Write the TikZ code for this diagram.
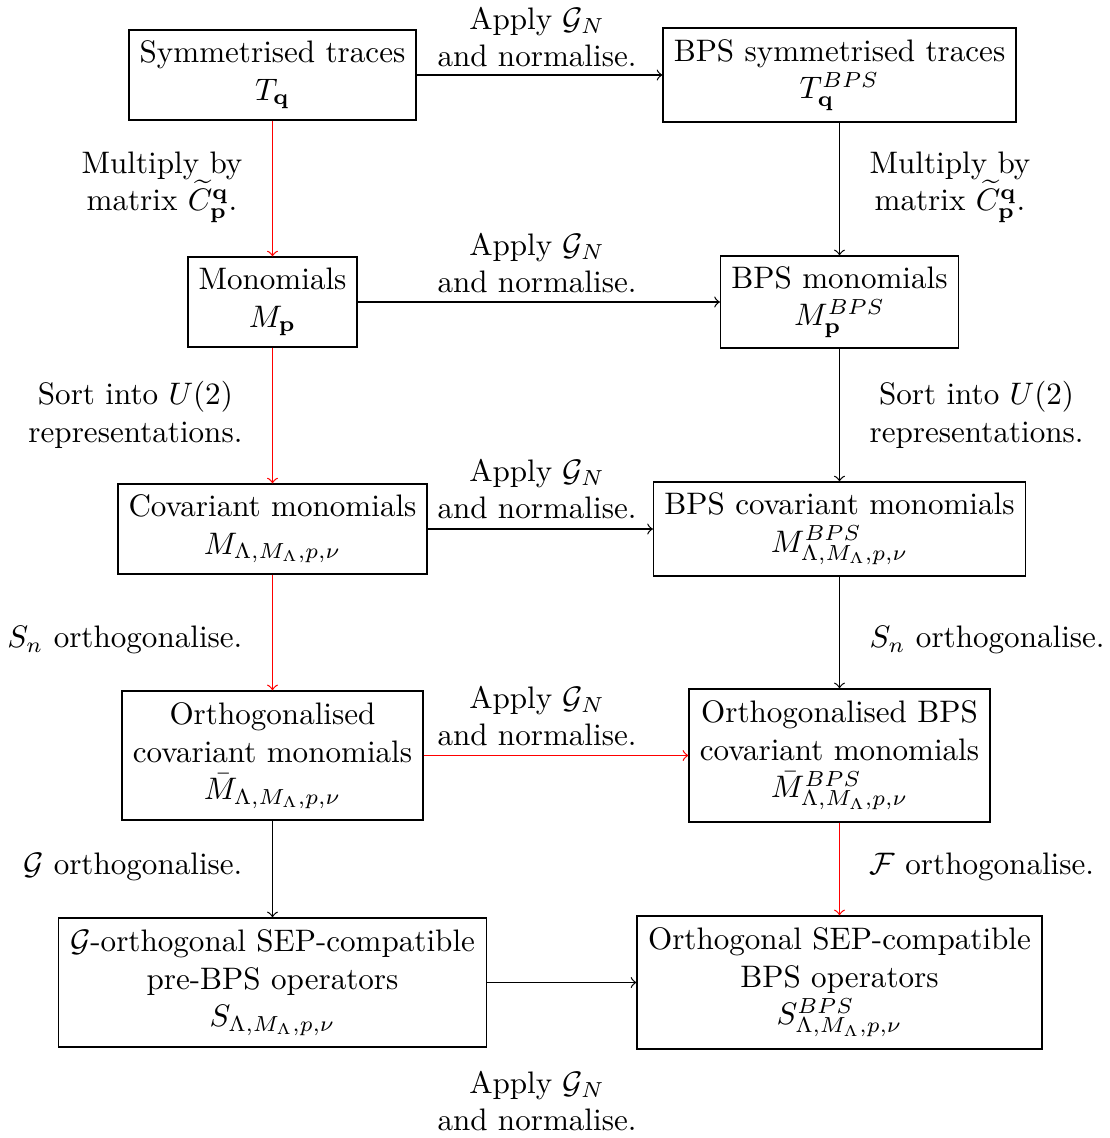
\documentclass[tikz,border=0pt]{standalone}
\usepackage{amsmath,amssymb}
\begin{document}
\begin{tikzpicture}[x=0.32154pt,y=-0.32154pt,
  box/.style={draw=black,thin,align=center,inner sep=2pt},
  lab/.style={align=center,inner sep=0pt},
  arr/.style={->,thin,black},
  rarr/.style={->,thin,red}]
\useasboundingbox (0,0) rectangle (1110,1138);
% boxes
\node[box,minimum width=92.3pt,minimum height=28.9pt] (T) at (272.5,75) {Symmetrised traces\\$T_{\mathbf{q}}$};
\node[box,minimum width=113.5pt,minimum height=30.2pt] (TB) at (839.5,75) {BPS symmetrised traces\\$T^{BPS}_{\mathbf{q}}$};
\node[box,minimum width=54.3pt,minimum height=28.9pt] (M) at (272.5,302) {Monomials\\$M_{\mathbf{p}}$};
\node[box,minimum width=76.5pt,minimum height=29.6pt] (MB) at (839.5,302) {BPS monomials\\$M^{BPS}_{\mathbf{p}}$};
\node[box,minimum width=99.4pt,minimum height=28.9pt] (C) at (272.5,529) {Covariant monomials\\$M_{\Lambda,M_\Lambda,p,\nu}$};
\node[box,minimum width=119.6pt,minimum height=30.2pt] (CB) at (839.5,529) {BPS covariant monomials\\$M^{BPS}_{\Lambda,M_\Lambda,p,\nu}$};
\node[box,minimum width=96.8pt,minimum height=41.5pt] (O) at (272.5,755.5) {Orthogonalised\\covariant monomials\\$\bar{M}_{\Lambda,M_\Lambda,p,\nu}$};
\node[box,minimum width=96.8pt,minimum height=42.8pt] (OB) at (839.5,755.5) {Orthogonalised BPS\\covariant monomials\\$\bar{M}^{BPS}_{\Lambda,M_\Lambda,p,\nu}$};
\node[box,minimum width=137.6pt,minimum height=41.5pt] (S) at (272.5,982.5) {$\mathcal{G}$-orthogonal SEP-compatible\\pre-BPS operators\\$S_{\Lambda,M_\Lambda,p,\nu}$};
\node[box,minimum width=130.2pt,minimum height=42.8pt] (SB) at (839.5,982.5) {Orthogonal SEP-compatible\\BPS operators\\$S^{BPS}_{\Lambda,M_\Lambda,p,\nu}$};
% connectors
\draw[arr] (T) -- (TB);
\draw[arr] (M) -- (MB);
\draw[arr] (C) -- (CB);
\draw[rarr] (O) -- (OB);
\draw[arr] (S) -- (SB);
\draw[rarr] (T.south) -- (M.north);
\draw[rarr] (M.south) -- (C.north);
\draw[rarr] (C.south) -- (O.north);
\draw[arr] (O.south) -- (S.north);
\draw[arr] (TB.south) -- (MB.north);
\draw[arr] (MB.south) -- (CB.north);
\draw[arr] (CB.south) -- (OB.north);
\draw[rarr] (OB.south) -- (SB.north);
% horizontal labels
\node[lab] (h1) at (537,37) {Apply $\mathcal{G}_N$\\and normalise.};
\node[lab] (h2) at (537,263) {Apply $\mathcal{G}_N$\\and normalise.};
\node[lab] (h3) at (537,489) {Apply $\mathcal{G}_N$\\and normalise.};
\node[lab] (h4) at (537,716) {Apply $\mathcal{G}_N$\\and normalise.};
\node[lab] (h5) at (537,1101) {Apply $\mathcal{G}_N$\\and normalise.};
% left labels
\node[lab,anchor=east] (l1) at (243,187) {Multiply by\\matrix $\widetilde{C}^{\mathbf{q}}_{\mathbf{p}}$.};
\node[lab,anchor=east] (l2) at (243,415) {Sort into $U(2)$\\representations.};
\node[lab,anchor=east] (l3) at (243,640) {$S_n$ orthogonalise.};
\node[lab,anchor=east] (l4) at (243,867) {$\mathcal{G}$ orthogonalise.};
% right labels
\node[lab,anchor=west] (r1) at (869,187) {Multiply by\\matrix $\widetilde{C}^{\mathbf{q}}_{\mathbf{p}}$.};
\node[lab,anchor=west] (r2) at (869,415) {Sort into $U(2)$\\representations.};
\node[lab,anchor=west] (r3) at (869,640) {$S_n$ orthogonalise.};
\node[lab,anchor=west] (r4) at (869,867) {$\mathcal{F}$ orthogonalise.};
\end{tikzpicture}
\end{document}
